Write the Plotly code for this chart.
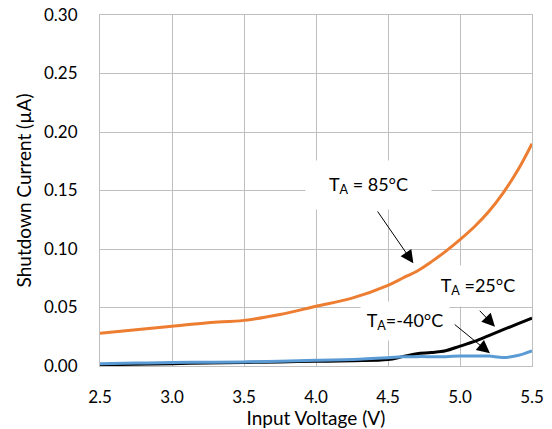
import plotly.graph_objects as go

voltage = [2.5, 2.75, 3.0, 3.25, 3.5, 3.75, 4.0, 4.25, 4.5, 4.6, 4.7, 4.8, 4.9, 5.0, 5.1, 5.2, 5.3, 5.4, 5.5]
i_85 = [0.028, 0.031, 0.034, 0.037, 0.039, 0.044, 0.051, 0.058, 0.069, 0.075, 0.081, 0.089, 0.098, 0.108, 0.119, 0.132, 0.148, 0.167, 0.190]
i_25 = [0.001, 0.0015, 0.002, 0.0025, 0.003, 0.0035, 0.004, 0.0045, 0.0055, 0.008, 0.0105, 0.0115, 0.013, 0.017, 0.021, 0.026, 0.031, 0.036, 0.041]
i_m40 = [0.002, 0.0025, 0.003, 0.0032, 0.0035, 0.004, 0.005, 0.0055, 0.007, 0.0078, 0.008, 0.008, 0.008, 0.0085, 0.0085, 0.0085, 0.0072, 0.009, 0.013]

x_ticks = [2.5, 3.0, 3.5, 4.0, 4.5, 5.0, 5.5]
y_ticks = [0.0, 0.05, 0.10, 0.15, 0.20, 0.25, 0.30]

FONT = "Lato"
GRID = "#bfbfbf"

fig = go.Figure()
fig.add_trace(go.Scatter(x=voltage, y=i_85, mode="lines", line=dict(color="#ED7D31", width=3, shape="spline"), name="85°C"))
fig.add_trace(go.Scatter(x=voltage, y=i_25, mode="lines", line=dict(color="#000000", width=3, shape="spline"), name="25°C"))
fig.add_trace(go.Scatter(x=voltage, y=i_m40, mode="lines", line=dict(color="#5B9BD5", width=3, shape="spline"), name="-40°C"))

labels = [
    ("T<sub>A</sub> = 85°C", 4.365, 0.1547, 123, 46),
    ("T<sub>A</sub> =25°C", 5.125, 0.0684, 76, 38),
    ("T<sub>A</sub>=-40°C", 4.62, 0.0385, 86, 36),
]
for txt, lx, ly, w, h in labels:
    fig.add_annotation(x=lx, y=ly, xref="x", yref="y", text=txt, showarrow=False,
                       bgcolor="white", width=w, height=h,
                       font=dict(family=FONT, size=18, color="#000000"))

arrows = [
    (4.421, 0.1333, 4.676, 0.0878),
    (5.127, 0.0485, 5.243, 0.0336),
    (4.953, 0.0365, 5.208, 0.0109),
]
for tx, ty, hx, hy in arrows:
    fig.add_annotation(x=hx, y=hy, ax=tx, ay=ty, xref="x", yref="y", axref="x", ayref="y",
                       text="", showarrow=True, arrowhead=2, arrowsize=2.6, arrowwidth=1,
                       arrowcolor="#000000")

fig.update_layout(
    width=552, height=429,
    margin=dict(l=100, r=20, t=15, b=63, autoexpand=False),
    paper_bgcolor="white", plot_bgcolor="white",
    showlegend=False,
    font=dict(family=FONT, size=16, color="#000000"),
)
fig.update_xaxes(
    range=[2.5, 5.5], tickvals=x_ticks, ticktext=[f"{v:.1f}" for v in x_ticks],
    showgrid=True, gridcolor=GRID, gridwidth=1,
    showline=True, linecolor=GRID, mirror=True, zeroline=False,
    ticks="", ticklabelstandoff=16, automargin=False, ticklabeloverflow="allow",
    title=dict(text="Input Voltage (V)", font=dict(family=FONT, size=19), standoff=10),
    tickfont=dict(family=FONT, size=17),
)
fig.update_yaxes(
    range=[0, 0.30], tickvals=y_ticks, ticktext=[f"{v:.2f}" for v in y_ticks],
    showgrid=True, gridcolor=GRID, gridwidth=1,
    showline=True, linecolor=GRID, mirror=True, zeroline=False,
    ticks="", ticklabelstandoff=18, automargin=False, ticklabeloverflow="allow",
    title=dict(text="Shutdown Current (µA)", font=dict(family=FONT, size=19), standoff=7),
    tickfont=dict(family=FONT, size=17),
)

fig.write_html("out.html", config={"displayModeBar": False},
               post_script="document.body.style.margin='0px';")
